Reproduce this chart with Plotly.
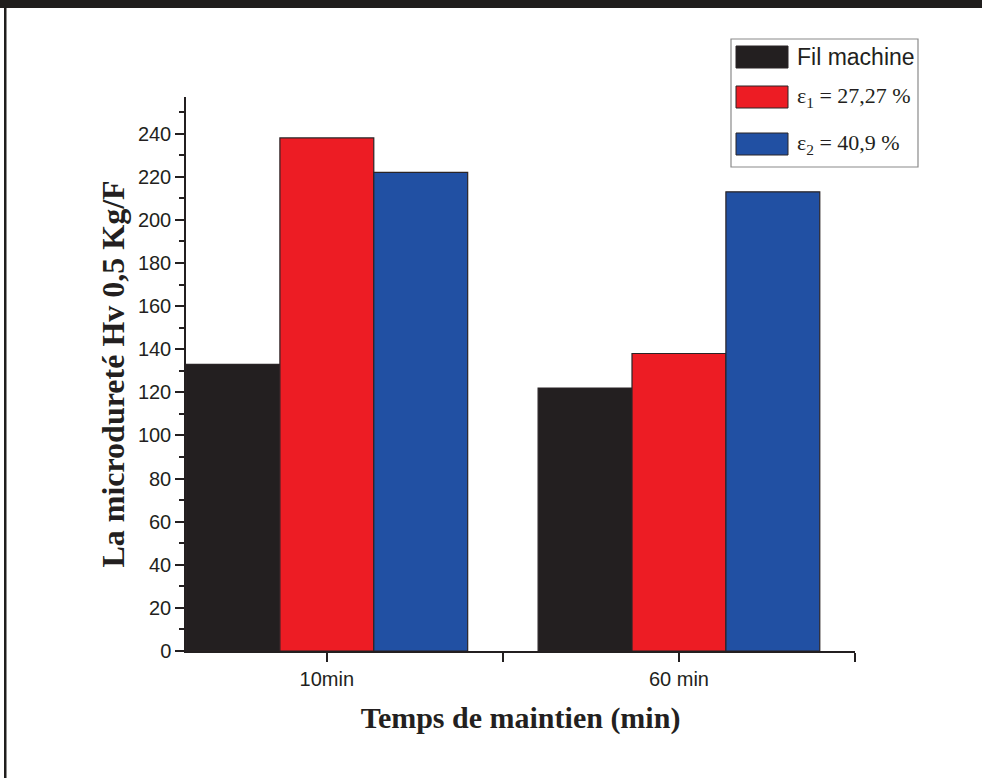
import plotly.graph_objects as go

# Data
categories = ["10min", "60 min"]
series_names = ["Fil machine", "ε<sub>1</sub> = 27,27 %", "ε<sub>2</sub> = 40,9 %"]
fil_machine = [133, 122]
eps1 = [238, 138]
eps2 = [222, 213]

colors = ["#231f20", "#ed1c24", "#2150a3"]
values = [fil_machine, eps1, eps2]

W, H = 982, 778
L, R, T, B = 186, 127, 97, 127
PW, PH = W - L - R, H - T - B


def px_x(x):
    return (x - L) / PW


def px_y(y):
    return (H - B - y) / PH


fig = go.Figure()
x_pos = list(range(len(categories)))
for name, vals, col in zip(series_names, values, colors):
    fig.add_trace(go.Bar(
        x=x_pos, y=vals, name=name,
        marker=dict(color=col, line=dict(color="#2a2426", width=1.2)),
        showlegend=False,
    ))

shapes = []
annotations = []

# Frame decoration: dark band on top, dark rule down the left side
shapes.append(dict(type="rect", xref="paper", yref="paper",
                   x0=px_x(0), x1=px_x(W), y0=px_y(0), y1=px_y(8),
                   fillcolor="#201e1d", line=dict(width=0), layer="above"))
shapes.append(dict(type="rect", xref="paper", yref="paper",
                   x0=px_x(4), x1=px_x(6.5), y0=px_y(8), y1=px_y(H),
                   fillcolor="#201e1d", line=dict(width=0), layer="above"))

# Custom legend box
shapes.append(dict(type="rect", xref="paper", yref="paper",
                   x0=px_x(731), x1=px_x(918), y0=px_y(39), y1=px_y(167),
                   fillcolor="white", line=dict(color="#8a8a8a", width=1.2)))
rows = [(46, 68), (86, 108), (133, 155)]
label_fonts = [
    dict(family="Liberation Sans, Arial", size=23, color="#231f20"),
    dict(family="Liberation Serif, Times New Roman", size=22, color="#231f20"),
    dict(family="Liberation Serif, Times New Roman", size=22, color="#231f20"),
]
for (y0, y1), name, col, fnt in zip(rows, series_names, colors, label_fonts):
    shapes.append(dict(type="rect", xref="paper", yref="paper",
                       x0=px_x(736), x1=px_x(788), y0=px_y(y1), y1=px_y(y0),
                       fillcolor=col, line=dict(color="#2a2426", width=1)))
    annotations.append(dict(xref="paper", yref="paper", x=px_x(795), y=px_y((y0 + y1) / 2),
                            xanchor="left", yanchor="middle", text=name, showarrow=False,
                            font=fnt))

tick_font = dict(family="Liberation Sans, Arial", size=20, color="#231f20")
title_font = dict(family="Liberation Serif, Times New Roman", color="#231f20")

fig.update_layout(
    width=W, height=H,
    margin=dict(l=L, r=R, t=T, b=B, pad=0),
    paper_bgcolor="white", plot_bgcolor="white",
    barmode="group", bargap=0.2, bargroupgap=0,
    shapes=shapes, annotations=annotations,
    showlegend=False,
    xaxis=dict(
        range=[-0.4, 1.5],
        tickmode="array", tickvals=x_pos, ticktext=categories,
        ticks="outside", ticklen=9, tickwidth=1.5, tickcolor="#231f20",
        minor=dict(tickmode="array", tickvals=[0.5, 1.5], ticks="outside",
                   ticklen=9, tickwidth=1.5, tickcolor="#231f20"),
        showline=True, linecolor="#231f20", linewidth=1.5,
        showgrid=False, zeroline=False,
        tickfont=tick_font,
        title=dict(text="<b>Temps de maintien (min)</b>", standoff=18,
                   font=dict(size=30, **title_font)),
    ),
    yaxis=dict(
        range=[0, 257],
        tick0=0, dtick=20,
        ticks="outside", ticklen=9, tickwidth=1.5, tickcolor="#231f20",
        minor=dict(dtick=10, ticks="outside", ticklen=5, tickwidth=1.5, tickcolor="#231f20"),
        showline=True, linecolor="#231f20", linewidth=1.5,
        showgrid=False, zeroline=False,
        tickfont=tick_font,
        title=dict(text="<b>La microdureté Hv 0,5 Kg/F</b>", standoff=4,
                   font=dict(size=32, **title_font)),
    ),
)

fig.write_html("out.html")
